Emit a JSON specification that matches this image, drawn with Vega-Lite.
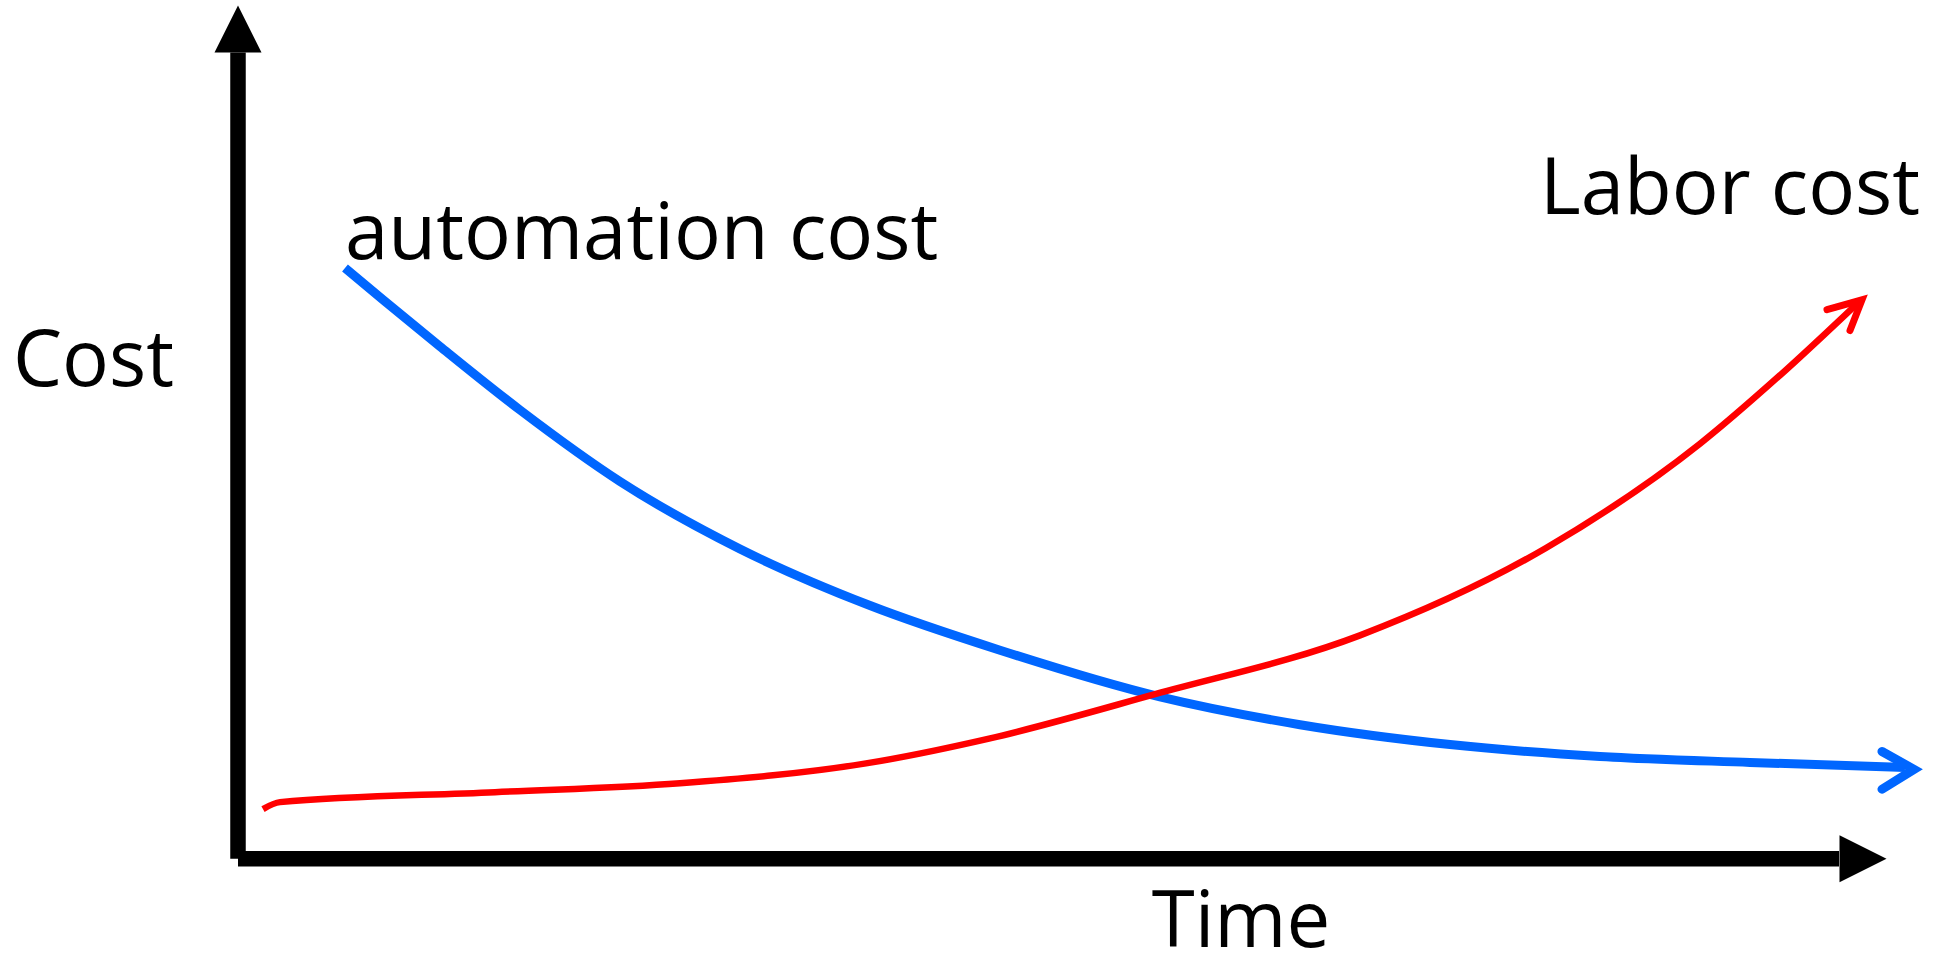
{
  "$schema": "https://vega.github.io/schema/vega-lite/v6.json",
  "width": 1939,
  "height": 963,
  "autosize": {"type": "fit", "contains": "padding"},
  "padding": 0,
  "background": "white",
  "config": {"view": {"stroke": null}},
  "datasets": {
    "axes": [
      {"axis": "Cost", "t": 0, "c": 0, "t2": 0, "c2": 81.2},
      {"axis": "Time", "t": 0, "c": 0, "t2": 160.1, "c2": 0}
    ],
    "curves": [
      {"series": "automation cost", "t": 10.7, "c": 59.5},
      {"series": "automation cost", "t": 14.5, "c": 56.3},
      {"series": "automation cost", "t": 20.2, "c": 51.6},
      {"series": "automation cost", "t": 28.2, "c": 45.2},
      {"series": "automation cost", "t": 38.2, "c": 38.0},
      {"series": "automation cost", "t": 50.2, "c": 31.2},
      {"series": "automation cost", "t": 63.2, "c": 25.5},
      {"series": "automation cost", "t": 76.2, "c": 21.0},
      {"series": "automation cost", "t": 92.2, "c": 16.3},
      {"series": "automation cost", "t": 106.2, "c": 13.5},
      {"series": "automation cost", "t": 121.2, "c": 11.5},
      {"series": "automation cost", "t": 136.2, "c": 10.3},
      {"series": "automation cost", "t": 151.2, "c": 9.7},
      {"series": "automation cost", "t": 166.7, "c": 9.2},
      {"series": "Labor cost", "t": 2.5, "c": 5.0},
      {"series": "Labor cost", "t": 4.2, "c": 5.7},
      {"series": "Labor cost", "t": 25.7, "c": 6.7},
      {"series": "Labor cost", "t": 44.2, "c": 7.6},
      {"series": "Labor cost", "t": 62.8, "c": 9.6},
      {"series": "Labor cost", "t": 75.1, "c": 12.1},
      {"series": "Labor cost", "t": 91.8, "c": 16.6},
      {"series": "Labor cost", "t": 112.2, "c": 22.5},
      {"series": "Labor cost", "t": 130.8, "c": 31.3},
      {"series": "Labor cost", "t": 146.2, "c": 41.8},
      {"series": "Labor cost", "t": 154.2, "c": 48.7},
      {"series": "Labor cost", "t": 162.0, "c": 56.0}
    ],
    "heads": [
      {"series": "automation cost", "o": 1, "t": 164.4, "c": 10.8},
      {"series": "automation cost", "o": 2, "t": 167.6, "c": 9.0},
      {"series": "automation cost", "o": 3, "t": 164.4, "c": 7.0},
      {"series": "Labor cost", "o": 1, "t": 158.9, "c": 55.3},
      {"series": "Labor cost", "o": 2, "t": 162.4, "c": 56.3},
      {"series": "Labor cost", "o": 3, "t": 161.2, "c": 53.2}
    ],
    "labels": [
      {"text": "Cost", "t": -14.45, "c": 47.6, "pos": "center"},
      {"text": "Time", "t": 100.3, "c": -8.9, "pos": "center"},
      {"text": "automation cost", "t": 10.7, "c": 60.4, "pos": "left"},
      {"text": "Labor cost", "t": 130.2, "c": 64.9, "pos": "left"}
    ]
  },
  "layer": [
    {
      "data": {"name": "axes"},
      "mark": {"type": "rule", "color": "black", "strokeWidth": 15.5, "strokeCap": "butt"},
      "encoding": {
        "x": {"field": "t", "type": "quantitative", "scale": {"domain": [-23.8, 170.1], "nice": false, "zero": false}, "axis": null},
        "y": {"field": "c", "type": "quantitative", "scale": {"domain": [-9.8, 86.5], "nice": false, "zero": false}, "axis": null},
        "x2": {"field": "t2"},
        "y2": {"field": "c2"}
      }
    },
    {
      "data": {"name": "axes"},
      "transform": [{"filter": "datum.axis === 'Cost'"}],
      "mark": {"type": "point", "shape": "M0,-1L1,1L-1,1Z", "size": 2209, "filled": true, "color": "black", "opacity": 1, "yOffset": -23.5},
      "encoding": {
        "x": {"field": "t2", "type": "quantitative"},
        "y": {"field": "c2", "type": "quantitative"}
      }
    },
    {
      "data": {"name": "axes"},
      "transform": [{"filter": "datum.axis === 'Time'"}],
      "mark": {"type": "point", "shape": "M-1,-1L1,0L-1,1Z", "size": 2209, "filled": true, "color": "black", "opacity": 1, "xOffset": 24},
      "encoding": {
        "x": {"field": "t2", "type": "quantitative"},
        "y": {"field": "c2", "type": "quantitative"}
      }
    },
    {
      "data": {"name": "curves"},
      "transform": [{"filter": "datum.series === 'automation cost'"}],
      "mark": {"type": "line", "color": "#0066ff", "strokeWidth": 9, "interpolate": "monotone", "strokeCap": "butt"},
      "encoding": {
        "x": {"field": "t", "type": "quantitative"},
        "y": {"field": "c", "type": "quantitative"}
      }
    },
    {
      "data": {"name": "curves"},
      "transform": [{"filter": "datum.series === 'Labor cost'"}],
      "mark": {"type": "line", "color": "#ff0000", "strokeWidth": 6.5, "interpolate": "monotone", "strokeCap": "butt"},
      "encoding": {
        "x": {"field": "t", "type": "quantitative"},
        "y": {"field": "c", "type": "quantitative"}
      }
    },
    {
      "data": {"name": "heads"},
      "transform": [{"filter": "datum.series === 'automation cost'"}],
      "mark": {"type": "line", "color": "#0066ff", "strokeWidth": 9, "strokeCap": "round", "strokeJoin": "miter"},
      "encoding": {
        "x": {"field": "t", "type": "quantitative"},
        "y": {"field": "c", "type": "quantitative"},
        "order": {"field": "o", "type": "quantitative"}
      }
    },
    {
      "data": {"name": "heads"},
      "transform": [{"filter": "datum.series === 'Labor cost'"}],
      "mark": {"type": "line", "color": "#ff0000", "strokeWidth": 7, "strokeCap": "round", "strokeJoin": "miter"},
      "encoding": {
        "x": {"field": "t", "type": "quantitative"},
        "y": {"field": "c", "type": "quantitative"},
        "order": {"field": "o", "type": "quantitative"}
      }
    },
    {
      "data": {"name": "labels"},
      "transform": [{"filter": "datum.pos === 'center'"}],
      "mark": {"type": "text", "font": "Open Sans", "fontSize": 78, "align": "center", "baseline": "alphabetic", "color": "black"},
      "encoding": {
        "x": {"field": "t", "type": "quantitative"},
        "y": {"field": "c", "type": "quantitative"},
        "text": {"field": "text"}
      }
    },
    {
      "data": {"name": "labels"},
      "transform": [{"filter": "datum.pos === 'left'"}],
      "mark": {"type": "text", "font": "Open Sans", "fontSize": 78, "align": "left", "baseline": "alphabetic", "color": "black"},
      "encoding": {
        "x": {"field": "t", "type": "quantitative"},
        "y": {"field": "c", "type": "quantitative"},
        "text": {"field": "text"}
      }
    }
  ]
}
